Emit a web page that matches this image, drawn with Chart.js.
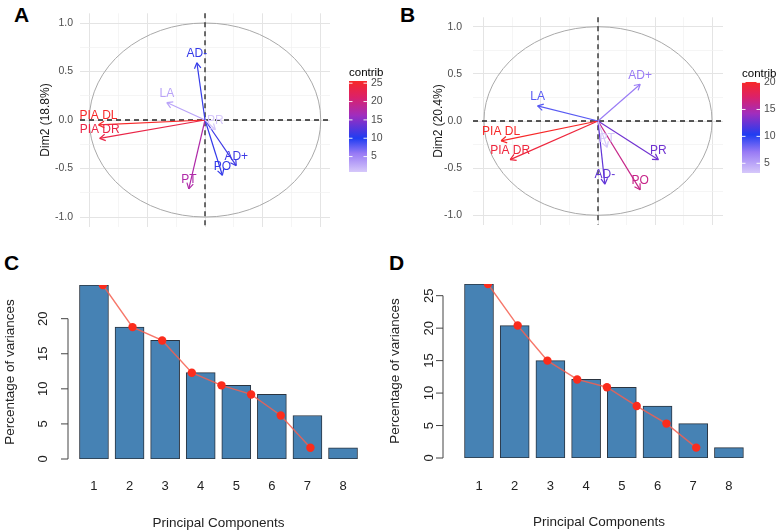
<!DOCTYPE html>
<html>
<head>
<meta charset="utf-8">
<script src="https://cdn.jsdelivr.net/npm/chart.js@4.4.1/dist/chart.umd.min.js"></script>
<style>
  body { margin: 0; background: #fff; width: 778px; height: 532px; position: relative; overflow: hidden; }
  canvas { position: absolute; }
  .tag { position: absolute; font: bold 21px/21px "Liberation Sans", Arial, sans-serif; color: #000; }
</style>
</head>
<body>
<div class="tag" style="left:14px;top:4px">A</div>
<div class="tag" style="left:400px;top:4px">B</div>
<div class="tag" style="left:4px;top:252px">C</div>
<div class="tag" style="left:389px;top:252px">D</div>
<canvas id="pcaA" style="left:0;top:0" width="390" height="240"></canvas>
<canvas id="pcaB" style="left:388px;top:0" width="390" height="242"></canvas>
<canvas id="screeC" style="left:0;top:262px" width="388" height="270"></canvas>
<canvas id="screeD" style="left:380px;top:262px" width="398" height="270"></canvas>
<script>
// variable correlation circles (A, B)
const varsA = ['AD-', 'LA', 'PIA DL', 'PIA DR', 'PR', 'AD+', 'PO', 'PT'];
const dim1A = [-0.07, -0.33, -0.92, -0.91, 0.09, 0.27, 0.15, -0.14];
const dim2A = [0.59, 0.18, -0.05, -0.19, -0.10, -0.47, -0.57, -0.71];
const contribA = [11.0, 3.2, 25.6, 23.5, 0.8, 11.5, 11.0, 17.5];

const varsB = ['AD+', 'LA', 'PIA DL', 'PIA DR', 'PT', 'PR', 'AD-', 'PO'];
const dim1B = [0.37, -0.53, -0.85, -0.77, 0.08, 0.53, 0.06, 0.37];
const dim2B = [0.39, 0.16, -0.21, -0.41, -0.28, -0.41, -0.67, -0.73];
const contribB = [7.0, 8.8, 20.1, 19.2, 3.2, 12.8, 12.3, 16.2];

// scree plots (C, D)
const components = ['1', '2', '3', '4', '5', '6', '7', '8'];
const varianceC = [24.8, 18.8, 16.9, 12.3, 10.5, 9.2, 6.2, 1.6];
const varianceD = [26.8, 20.4, 15.0, 12.1, 10.9, 8.0, 5.3, 1.6];

const dimTicks = [-1, -0.5, 0, 0.5, 1];
const contribTicksA = [5, 10, 15, 20, 25];
const contribTicksB = [5, 10, 15, 20];
const varianceTicksC = [0, 5, 10, 15, 20];
const varianceTicksD = [0, 5, 10, 15, 20, 25];

const FONT = '"Liberation Sans", Arial, sans-serif';
Chart.defaults.font.family = FONT;

const colorStops = mid => [
  [0, [214, 200, 250]],
  [mid * 0.55, [152, 122, 245]],
  [mid, [31, 61, 242]],
  [mid + (1 - mid) * 0.4, [160, 45, 190]],
  [mid + (1 - mid) * 0.72, [220, 33, 104]],
  [1, [247, 40, 40]]
];

function rampColor(stops, t) {
  t = Math.max(0, Math.min(1, t));
  for (let i = 1; i < stops.length; i++) {
    if (t <= stops[i][0]) {
      const [p0, c0] = stops[i - 1], [p1, c1] = stops[i];
      const f = (t - p0) / (p1 - p0);
      return 'rgb(' + c0.map((v, k) => Math.round(v + (c1[k] - v) * f)).join(',') + ')';
    }
  }
  return 'rgb(' + stops[stops.length - 1][1].join(',') + ')';
}

const isMajor = v => Math.abs(v * 2 - Math.round(v * 2)) < 1e-6;

// circle, dashed axes, arrowheads, labels and the colour bar
const pcaDecor = {
  id: 'pcaDecor',
  beforeDatasetsDraw(chart) {
    const { ctx, chartArea: a, scales: { x, y } } = chart;
    const cx = x.getPixelForValue(0), cy = y.getPixelForValue(0);
    ctx.save();
    ctx.strokeStyle = '#a9a9a9';
    ctx.lineWidth = 1;
    ctx.beginPath();
    ctx.ellipse(cx, cy, x.getPixelForValue(1) - cx, cy - y.getPixelForValue(1), 0, 0, Math.PI * 2);
    ctx.stroke();
    ctx.strokeStyle = '#222';
    ctx.lineWidth = 1.3;
    ctx.setLineDash([5, 4]);
    ctx.beginPath();
    ctx.moveTo(a.left, cy); ctx.lineTo(a.right, cy);
    ctx.moveTo(cx, a.top); ctx.lineTo(cx, a.bottom);
    ctx.stroke();
    ctx.restore();
  },
  afterDatasetsDraw(chart, args, o) {
    const ctx = chart.ctx;
    ctx.save();
    ctx.font = '12px ' + FONT;
    ctx.textAlign = 'center';
    ctx.textBaseline = 'middle';
    chart.data.datasets.forEach((ds, i) => {
      const [p0, p1] = chart.getDatasetMeta(i).data;
      const ang = Math.atan2(p1.y - p0.y, p1.x - p0.x);
      ctx.strokeStyle = ds.borderColor;
      ctx.lineWidth = 1.2;
      ctx.beginPath();
      [-Math.PI / 6, Math.PI / 6].forEach(d => {
        ctx.moveTo(p1.x, p1.y);
        ctx.lineTo(p1.x - 6.5 * Math.cos(ang + d), p1.y - 6.5 * Math.sin(ang + d));
      });
      ctx.stroke();
      ctx.fillStyle = ds.borderColor;
      ctx.fillText(ds.label, p1.x, p1.y - 9);
    });
    // colour bar
    const b = o.bar;
    const g = ctx.createLinearGradient(0, b.y + b.h, 0, b.y);
    o.stops.forEach(s => g.addColorStop(s[0], 'rgb(' + s[1].join(',') + ')'));
    ctx.fillStyle = g;
    ctx.fillRect(b.x, b.y, b.w, b.h);
    ctx.fillStyle = '#000';
    ctx.font = '11.5px ' + FONT;
    ctx.textAlign = 'left';
    ctx.fillText(o.title, b.x, b.y - 8);
    ctx.font = '10.5px ' + FONT;
    ctx.fillStyle = '#4d4d4d';
    ctx.strokeStyle = 'rgba(255,255,255,0.9)';
    ctx.lineWidth = 1;
    o.ticks.forEach(t => {
      const py = b.y + b.h - (t - o.lo) / (o.hi - o.lo) * b.h;
      ctx.beginPath();
      ctx.moveTo(b.x, py); ctx.lineTo(b.x + 3.5, py);
      ctx.moveTo(b.x + b.w - 3.5, py); ctx.lineTo(b.x + b.w, py);
      ctx.stroke();
      ctx.fillText(String(t), b.x + b.w + 4, py);
    });
    ctx.restore();
  }
};

function pcaChart(id, vars, d1, d2, contrib, title, lay) {
  const lo = Math.min(...contrib), hi = Math.max(...contrib);
  const stops = colorStops(lay.mid);
  const datasets = vars.map((v, i) => ({
    label: v,
    data: [{ x: 0, y: 0 }, { x: d1[i], y: d2[i] }],
    showLine: true,
    borderColor: rampColor(stops, (contrib[i] - lo) / (hi - lo)),
    borderWidth: 1.2,
    pointRadius: 0,
    clip: false
  }));
  const grid = {
    color: c => isMajor(c.tick.value) ? '#e4e4e4' : '#f1f1f1',
    lineWidth: c => isMajor(c.tick.value) ? 1 : 0.7,
    drawTicks: false
  };
  new Chart(document.getElementById(id), {
    type: 'scatter',
    data: { datasets },
    options: {
      responsive: false,
      animation: false,
      layout: { padding: lay.padding },
      plugins: {
        legend: { display: false },
        tooltip: { enabled: false },
        pcaDecor: { bar: lay.bar, ticks: lay.ticks, lo, hi, stops, title: 'contrib' }
      },
      scales: {
        x: {
          type: 'linear', min: -lay.xr, max: lay.xr,
          ticks: { display: false, stepSize: 0.25, includeBounds: false },
          grid, border: { display: false },
          afterFit: s => { s.height = 0; }
        },
        y: {
          type: 'linear', min: -1.1, max: 1.1,
          ticks: {
            stepSize: 0.25, includeBounds: false, padding: lay.tickPad,
            color: '#4d4d4d', font: { size: 10.5 },
            callback: v => dimTicks.some(t => Math.abs(t - v) < 1e-6) ? v.toFixed(1) : ''
          },
          grid, border: { display: false },
          title: { display: true, text: title, color: '#1a1a1a', font: { size: 12 }, padding: { top: lay.titlePad, bottom: 0 } },
          afterFit: s => { s.width = lay.axisW; }
        }
      }
    },
    plugins: [pcaDecor]
  });
}

pcaChart('pcaA', varsA, dim1A, dim2A, contribA, 'Dim2 (' + varianceC[1] + '%)', {
  mid: 0.37, xr: 1.08, axisW: 80, tickPad: 7, titlePad: 38,
  padding: { left: 0, top: 1, right: 60, bottom: 1 },
  bar: { x: 349, y: 81, w: 18, h: 91 }, ticks: contribTicksA
});
pcaChart('pcaB', varsB, dim1B, dim2B, contribB, 'Dim2 (' + varianceD[1] + '%)', {
  mid: 0.42, xr: 1.096, axisW: 85, tickPad: 11, titlePad: 43,
  padding: { left: 0, top: 3, right: 55, bottom: 2 },
  bar: { x: 354, y: 82, w: 18, h: 91 }, ticks: contribTicksB
});

// base-R style value axis with rotated labels
const baseAxis = {
  id: 'baseAxis',
  afterDraw(chart, args, o) {
    const { ctx, chartArea: a, scales: { y } } = chart;
    const x0 = a.left;
    ctx.save();
    ctx.strokeStyle = '#444';
    ctx.lineWidth = 1;
    ctx.beginPath();
    ctx.moveTo(x0, y.getPixelForValue(o.ticks[0]));
    ctx.lineTo(x0, y.getPixelForValue(o.ticks[o.ticks.length - 1]));
    o.ticks.forEach(t => {
      const py = y.getPixelForValue(t);
      ctx.moveTo(x0 - 7, py); ctx.lineTo(x0, py);
    });
    ctx.stroke();
    ctx.fillStyle = '#222';
    ctx.font = '13px ' + FONT;
    ctx.textAlign = 'center';
    ctx.textBaseline = 'middle';
    o.ticks.forEach(t => {
      ctx.save();
      ctx.translate(x0 - o.gap, y.getPixelForValue(t));
      ctx.rotate(-Math.PI / 2);
      ctx.fillText(String(t), 0, 0);
      ctx.restore();
    });
    ctx.restore();
  }
};

function screeChart(id, values, ticks, lay) {
  const centers = components.map((c, i) => 0.7 + 1.2 * i);
  new Chart(document.getElementById(id), {
    type: 'bar',
    data: {
      datasets: [
        {
          type: 'line',
          data: components.map((c, i) => ({ x: i + 1, y: values[i] })),
          borderColor: 'rgba(245,95,80,0.85)',
          borderWidth: 1.4,
          pointRadius: 4.2,
          pointBackgroundColor: '#fb2c1c',
          pointBorderWidth: 0,
          clip: 0,
          order: 0
        },
        {
          data: components.map((c, i) => ({ x: centers[i], y: values[i] })),
          backgroundColor: '#4682b4',
          borderColor: '#2a3440',
          borderWidth: 1,
          borderSkipped: false,
          barThickness: lay.barW,
          order: 1
        }
      ]
    },
    options: {
      responsive: false,
      animation: false,
      layout: { padding: lay.padding },
      plugins: {
        legend: { display: false },
        tooltip: { enabled: false },
        baseAxis: { ticks, gap: lay.gap }
      },
      scales: {
        x: {
          type: 'linear', min: lay.xmin, max: 9.976, offset: false,
          afterBuildTicks: s => { s.ticks = centers.map(v => ({ value: v })); },
          ticks: {
            autoSkip: false, maxRotation: 0, padding: lay.xPad,
            color: '#222', font: { size: 13 },
            callback: (v, i) => components[i]
          },
          grid: { display: false, drawTicks: false, offset: false },
          border: { display: false },
          title: { display: true, text: 'Principal Components', color: '#222', font: { size: 13.5 }, padding: { top: 0, bottom: lay.xTitlePad } },
          afterFit: s => { s.height = lay.xH; }
        },
        y: {
          type: 'linear', min: 0, max: Math.max(...values),
          ticks: { display: false },
          grid: { display: false, drawTicks: false },
          border: { display: false },
          title: { display: true, text: 'Percentage of variances', color: '#222', font: { size: 13.5 }, padding: { top: lay.yTitlePad, bottom: 0 } },
          afterFit: s => { s.width = lay.axisW; }
        }
      }
    },
    plugins: [baseAxis]
  });
}

screeChart('screeC', varianceC, varianceTicksC, {
  barW: 29, xmin: -0.176, axisW: 68, gap: 25, xH: 73, xPad: 20, xTitlePad: 1, yTitlePad: 2,
  padding: { left: 0, top: 23, right: 19, bottom: 0 }
});
screeChart('screeD', varianceD, varianceTicksD, {
  barW: 29, xmin: -0.51, axisW: 63, gap: 14, xH: 74, xPad: 21, xTitlePad: 2, yTitlePad: 7,
  padding: { left: 0, top: 22, right: 23, bottom: 0 }
});
</script>
</body>
</html>
